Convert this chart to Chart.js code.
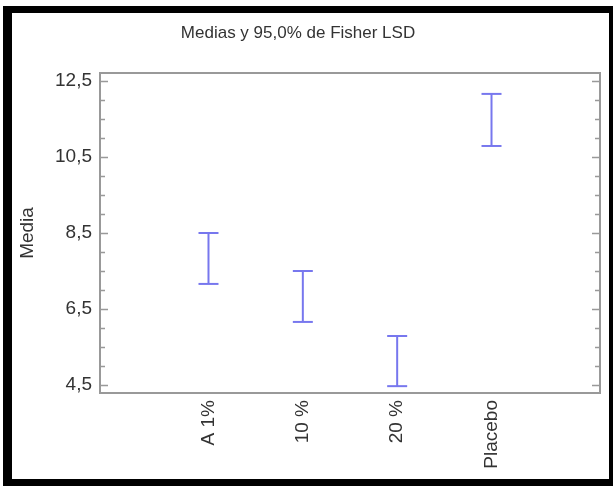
<!DOCTYPE html>
<html>
<head>
<meta charset="utf-8">
<script src="https://cdn.jsdelivr.net/npm/chart.js@4"></script>
<style>
	html, body { margin: 0; padding: 0; background: #fff; }
	#caja { position: relative; width: 613px; height: 486px; }
	#marco-negro {
		position: absolute; left: 3px; top: 6px; width: 610px; height: 480px;
		box-sizing: border-box; border: solid #000; border-width: 7px 4px 7px 9px;
		pointer-events: none;
	}
	canvas { position: absolute; left: 0; top: 0; }
</style>
</head>
<body>
<div id="caja">
	<canvas id="grafica" width="613" height="486"></canvas>
	<div id="marco-negro"></div>
</div>
<script>
	// --- DATOS --- //
	const categorias = ['A 1%', '10 %', '20 %', 'Placebo'];
	const limiteInferior = [7.16, 6.16, 4.47, 10.79];
	const limiteSuperior = [8.5, 7.5, 5.79, 12.16];
	const ticksY = [4.5, 6.5, 8.5, 10.5, 12.5];

	const colorBarra = '#7777ee';
	const colorTexto = '#333';
	const fuente = 'Liberation Sans, Arial, sans-serif';

	// marco gris y marcas hacia dentro (cada 0,5)
	const marco = {
		id: 'marco',
		afterDraw(chart) {
			const { ctx, chartArea: a } = chart;
			const y = chart.scales.y;
			ctx.save();
			ctx.strokeStyle = '#999';
			ctx.lineWidth = 2;
			ctx.strokeRect(a.left, a.top, a.right - a.left, a.bottom - a.top);
			ctx.lineWidth = 1.5;
			const ini = ticksY[0];
			const fin = ticksY[ticksY.length - 1];
			for (let v = ini; v <= fin + 0.001; v += 0.5) {
				const py = Math.round(y.getPixelForValue(v)) + 0.5;
				const largo = ticksY.some((t) => Math.abs(t - v) < 0.001) ? 8 : 5;
				ctx.beginPath();
				ctx.moveTo(a.left, py);
				ctx.lineTo(a.left + largo, py);
				ctx.moveTo(a.right, py);
				ctx.lineTo(a.right - largo, py);
				ctx.stroke();
			}
			ctx.restore();
		},
	};

	const datasets = categorias.map((c, i) => ({
		label: c,
		data: [
			{ x: i + 1, y: limiteInferior[i] },
			{ x: i + 1, y: limiteSuperior[i] },
		],
		showLine: true,
		borderColor: colorBarra,
		borderWidth: 2,
		pointStyle: 'line',
		pointRadius: 10,
		pointBorderWidth: 2,
		pointBorderColor: colorBarra,
		pointHoverRadius: 10,
	}));

	new Chart(document.getElementById('grafica'), {
		type: 'scatter',
		data: { datasets },
		plugins: [marco],
		options: {
			responsive: false,
			animation: false,
			layout: { padding: { left: -4, right: 13, top: 0, bottom: 0 } },
			plugins: {
				legend: { display: false },
				tooltip: { enabled: false },
				title: {
					display: true,
					text: 'Medias y 95,0% de Fisher LSD',
					color: colorTexto,
					font: { family: fuente, size: 17, weight: 'normal' },
					padding: { top: 23, bottom: 29.6 },
				},
			},
			scales: {
				x: {
					type: 'linear',
					min: -0.15,
					max: 5.15,
					afterBuildTicks: (s) => {
						s.ticks = categorias.map((c, i) => ({ value: i + 1 }));
					},
					afterFit: (s) => {
						s.height = 93;
					},
					grid: { display: false, drawTicks: false },
					border: { display: false },
					ticks: {
						callback: (v) => categorias[v - 1] || '',
						minRotation: 90,
						maxRotation: 90,
						padding: 7,
						color: colorTexto,
						font: { family: fuente, size: 19 },
					},
				},
				y: {
					min: 4.29,
					max: 12.71,
					afterBuildTicks: (s) => {
						s.ticks = ticksY.map((v) => ({ value: v }));
					},
					afterFit: (s) => {
						s.width = 104;
					},
					grid: { display: false, drawTicks: false },
					border: { display: false },
					title: {
						display: true,
						text: 'Media',
						color: colorTexto,
						font: { family: fuente, size: 19 },
						padding: { top: 20, bottom: 0 },
					},
					ticks: {
						callback: (v) => v.toFixed(1).replace('.', ','),
						padding: 8,
						color: colorTexto,
						font: { family: fuente, size: 19 },
					},
				},
			},
		},
	});
</script>
</body>
</html>
